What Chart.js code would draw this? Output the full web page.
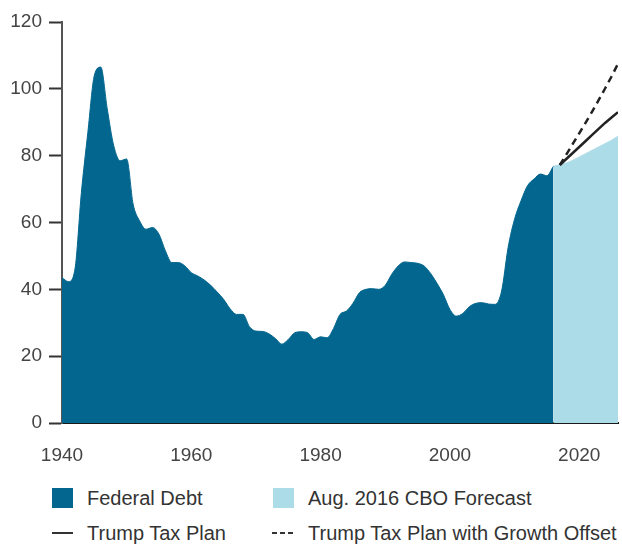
<!DOCTYPE html>
<html>
<head>
<meta charset="utf-8">
<script src="https://cdn.jsdelivr.net/npm/chart.js@4/dist/chart.umd.min.js"></script>
<style>
  body { margin: 0; background: #fff; font-family: "Liberation Sans", Arial, sans-serif; }
  #wrap { position: relative; width: 622px; height: 548px; }
  #chart { position: absolute; left: 0; top: 0; }
  .lg { position: absolute; font-size: 20px; color: #333; line-height: 24px; white-space: nowrap; }
  .sw { position: absolute; }
</style>
</head>
<body>
<div id="wrap">
  <canvas id="chart" width="622" height="470"></canvas>
  <div class="sw" style="left:52px;top:488px;width:21px;height:20px;background:#03668e;"></div>
  <div class="lg" style="left:87px;top:486px;">Federal Debt</div>
  <div class="sw" style="left:273px;top:488px;width:21px;height:20px;background:#acdce8;"></div>
  <div class="lg" style="left:308px;top:486px;">Aug. 2016 CBO Forecast</div>
  <div class="sw" style="left:52px;top:532px;width:21px;height:2px;background:#333;"></div>
  <div class="lg" style="left:87px;top:521px;">Trump Tax Plan</div>
  <div class="sw" style="left:272px;top:532px;width:21px;height:2px;background:repeating-linear-gradient(90deg,#333 0 5px,transparent 5px 8px);"></div>
  <div class="lg" style="left:308px;top:521px;">Trump Tax Plan with Growth Offset</div>
</div>
<script>
var firstYear = 1940;
var debtValues = [43.5, 42.3, 46, 69, 87, 104, 106.5, 94, 83, 78.5,
  79, 65.5, 60.5, 58, 58.5, 56.5, 51.5, 48, 48, 47,
  45, 44, 42.8, 41.2, 39.2, 37, 34.2, 32.5, 32.5, 28.8,
  27.5, 27.4, 26.7, 25.3, 23.6, 25, 27, 27.3, 27, 25,
  25.8, 25.5, 28.3, 32.5, 33.5, 35.8, 39, 40, 40.2, 40,
  41.2, 44.5, 47, 48.2, 48, 47.8, 47, 44.8, 41.8, 38.4,
  34, 32, 32.8, 34.8, 35.8, 36, 35.6, 35.5, 39.5, 52.5,
  61, 66.5, 71, 73, 74.5, 74, 76.8];

var forecastYears = [2016, 2017, 2018, 2019, 2020, 2021, 2022, 2023, 2024, 2025, 2026];
var forecastValues = [76.8, 77.3, 77.8, 78.6, 79.6, 80.6, 81.6, 82.6, 83.6, 84.6, 85.8];

var planYears = [2017, 2018, 2019, 2020, 2021, 2022, 2023, 2024, 2025, 2026];
var trumpPlan = [77.2, 79, 80.8, 82.6, 84.4, 86.2, 88, 89.8, 91.4, 93];
var trumpGrowth = [77.2, 80.3, 83.5, 86.7, 89.9, 93.2, 96.6, 100.1, 103.7, 107.5];

var xTicks = [1940, 1960, 1980, 2000, 2020];

function pts(xs, ys) {
  return ys.map(function(v, i) { return { x: xs[i], y: v }; });
}
var debtYears = debtValues.map(function(v, i) { return firstYear + i; });

var tickFont = { family: '"Liberation Sans", Arial, sans-serif', size: 19 };

new Chart(document.getElementById('chart').getContext('2d'), {
  type: 'line',
  data: {
    datasets: [
      {
        label: 'Trump Tax Plan with Growth Offset',
        data: pts(planYears, trumpGrowth),
        borderColor: '#222',
        borderWidth: 2.5,
        borderDash: [7, 5],
        pointRadius: 0,
        fill: false,
        order: 0
      },
      {
        label: 'Trump Tax Plan',
        data: pts(planYears, trumpPlan),
        borderColor: '#222',
        borderWidth: 2.5,
        pointRadius: 0,
        fill: false,
        order: 1
      },
      {
        label: 'Federal Debt',
        data: pts(debtYears, debtValues),
        borderColor: '#03668e',
        backgroundColor: '#03668e',
        borderWidth: 1,
        pointRadius: 0,
        cubicInterpolationMode: 'monotone',
        fill: 'origin',
        order: 2
      },
      {
        label: 'Aug. 2016 CBO Forecast',
        data: pts(forecastYears, forecastValues),
        borderColor: '#acdce8',
        backgroundColor: '#acdce8',
        borderWidth: 1,
        pointRadius: 0,
        cubicInterpolationMode: 'monotone',
        fill: 'origin',
        order: 3
      }
    ]
  },
  options: {
    responsive: false,
    animation: false,
    layout: { padding: { top: 22, right: 4, left: 0, bottom: 0 } },
    plugins: {
      legend: { display: false },
      tooltip: { enabled: false }
    },
    scales: {
      x: {
        type: 'linear',
        min: 1940,
        max: 2026,
        afterBuildTicks: function(scale) {
          scale.ticks = xTicks.map(function(v) { return { value: v }; });
        },
        afterFit: function(scale) { scale.height = 47; },
        ticks: {
          color: '#444',
          font: tickFont,
          padding: 21,
          maxRotation: 0,
          callback: function(v) { return String(v); }
        },
        grid: { drawOnChartArea: false, drawTicks: false },
        border: { color: '#1a1a1a', width: 2 }
      },
      y: {
        min: 0,
        max: 120,
        afterFit: function(scale) { scale.width = 62; },
        ticks: {
          stepSize: 20,
          color: '#444',
          font: tickFont,
          padding: 7
        },
        grid: { drawOnChartArea: false, tickLength: 13, tickColor: '#333', tickWidth: 2 },
        border: { color: '#555', width: 2 }
      }
    }
  }
});
</script>
</body>
</html>
